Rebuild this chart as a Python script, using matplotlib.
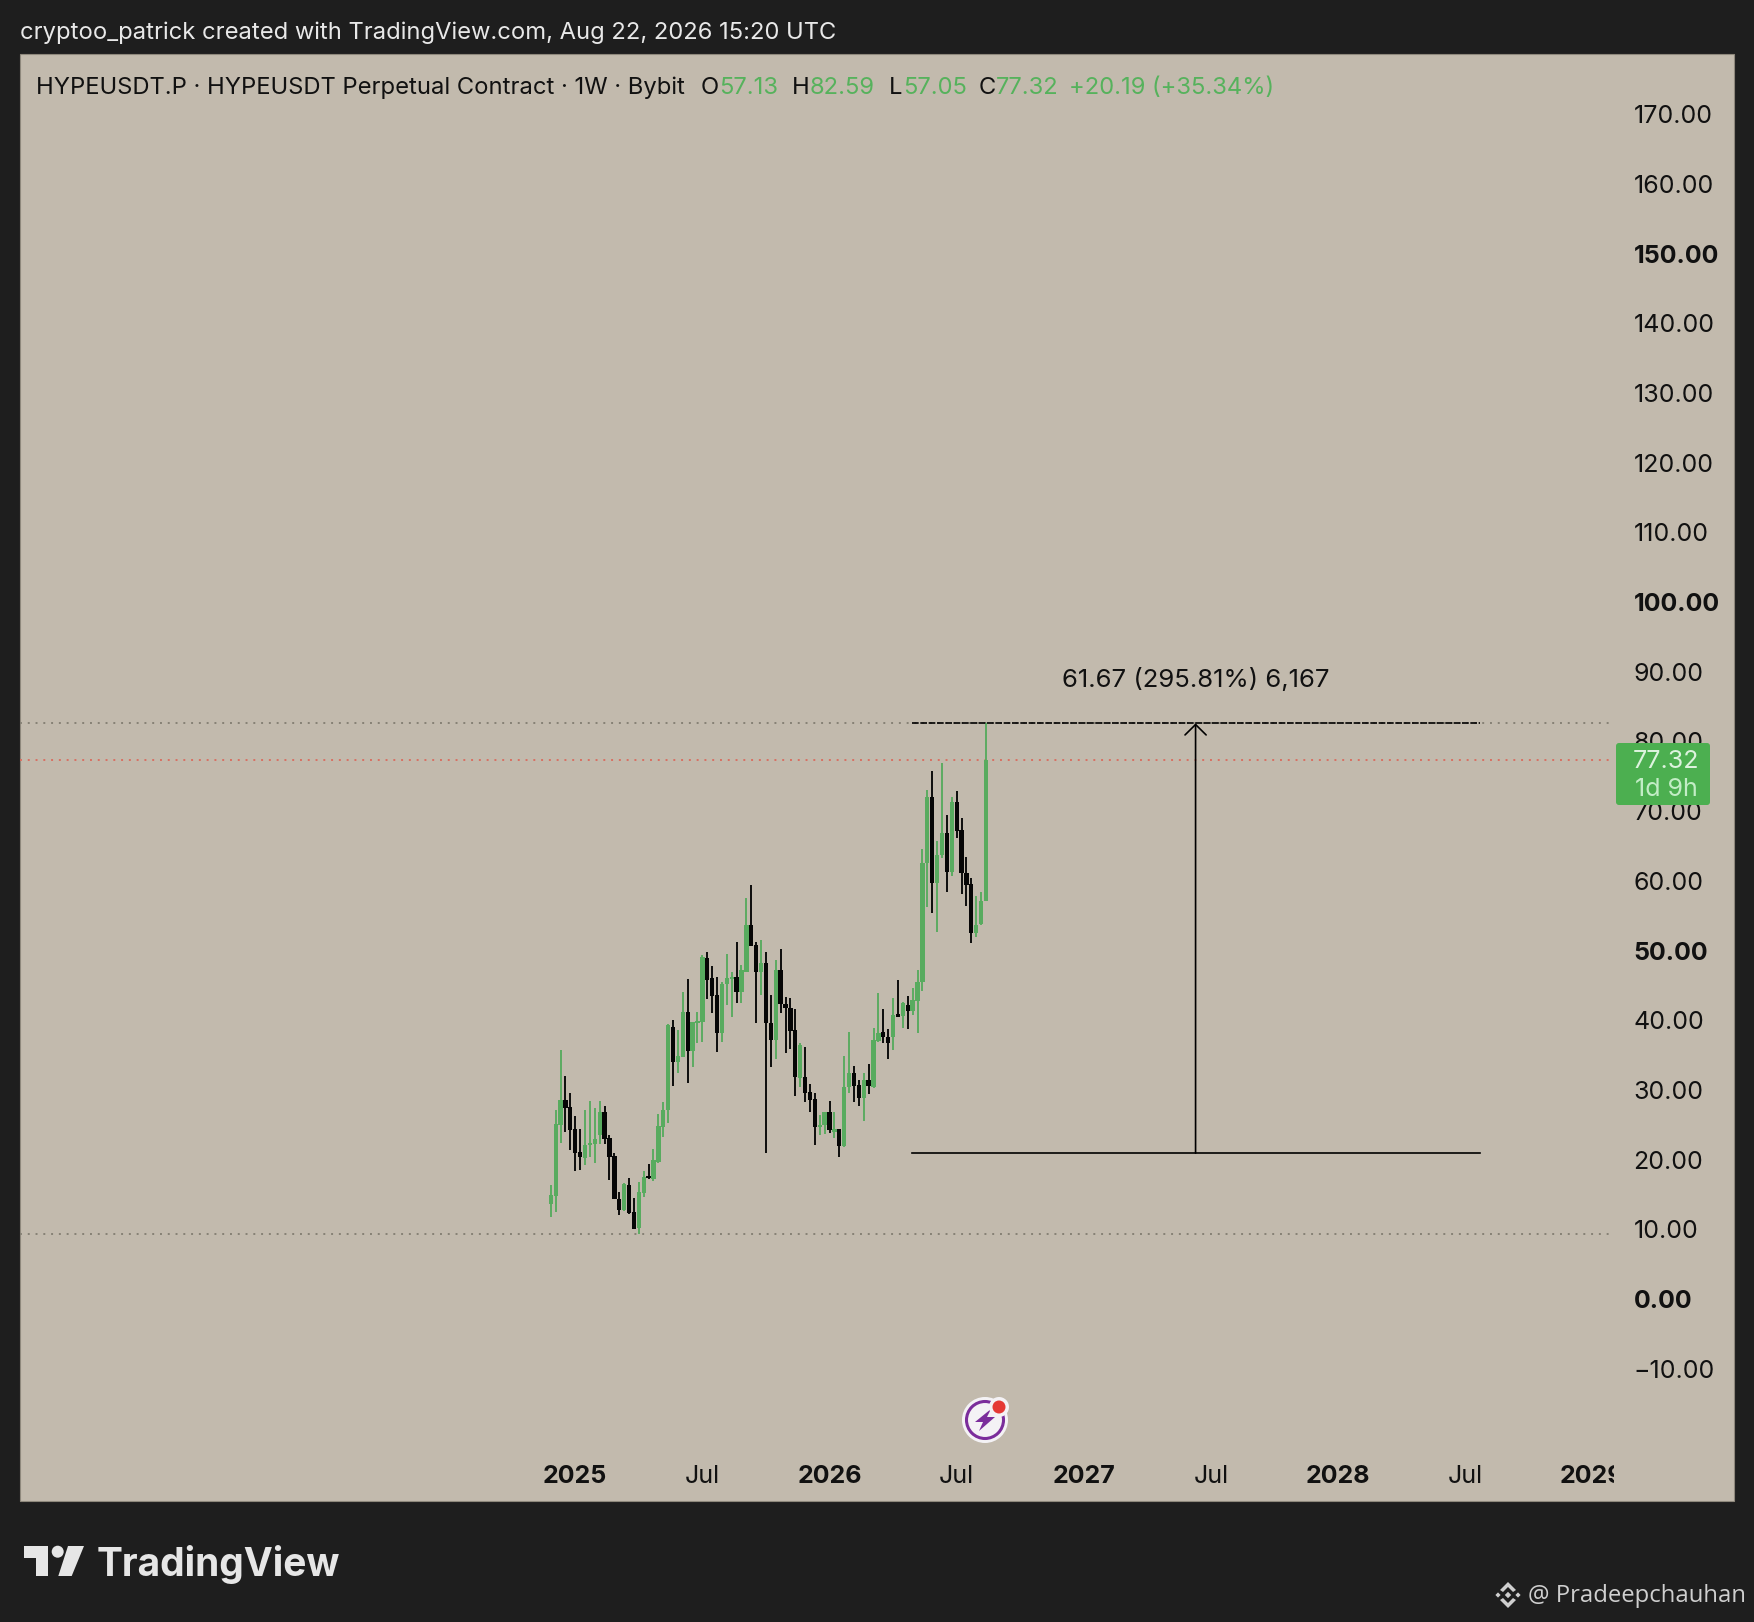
import matplotlib
matplotlib.use("Agg")
import matplotlib.pyplot as plt
import matplotlib.dates as mdates
import matplotlib.patches as mp
import pandas as pd
import numpy as np

W, H = 1754, 1622
FONT = "Inter"

# ---------- data (weekly HYPEUSDT.P candles) ----------
first_week = "2024-12-02"
opens = [13.63,14.78,24.97,28.55,27.60,24.35,21.14,20.28,22.10,22.24,
         23.53,26.88,23.05,20.52,14.30,12.77,16.36,12.53,10.14,15.17,
         17.65,17.22,19.71,24.73,27.12,39.07,34.05,34.77,41.22,35.63,
         39.64,39.79,48.97,46.00,43.61,38.11,45.19,45.91,46.15,44.09,
         46.96,53.66,50.79,46.96,48.16,39.55,37.16,47.20,42.32,41.70,
         38.59,31.66,31.90,29.75,28.74,24.72,24.96,26.78,24.01,24.34,
         21.95,30.37,32.38,30.70,28.88,31.42,30.46,37.02,38.36,37.64,
         37.55,40.85,40.61,42.18,41.37,42.81,45.54,62.51,72.08,59.64,
         63.71,66.82,61.32,71.36,67.29,61.08,59.55,52.47,53.76,57.13]
highs = [16.36,27.12,35.73,31.99,29.51,26.26,24.39,27.12,28.41,27.36,
         28.41,27.69,23.53,20.99,15.36,16.60,17.36,14.45,16.79,18.42,
         19.37,21.53,26.55,28.27,39.46,40.03,38.60,44.04,45.96,39.79,
         41.13,49.35,49.73,47.77,46.15,45.53,49.49,46.96,51.22,47.92,
         57.58,59.39,51.26,51.50,49.73,43.61,48.63,50.21,43.37,43.13,
         41.60,36.77,36.20,30.84,29.55,26.40,26.87,28.45,26.87,24.34,
         34.86,38.26,33.43,31.42,32.38,33.71,38.83,43.86,41.61,38.69,
         43.24,45.77,42.66,43.48,44.67,47.21,64.57,73.03,75.76,65.72,
         76.95,69.45,72.08,72.89,69.06,63.47,60.36,57.87,58.35,82.59]
lows = [11.72,12.53,22.34,24.01,21.38,18.42,18.51,19.23,20.43,19.56,
        22.24,22.24,17.08,14.30,12.10,12.68,12.20,10.10,9.33,14.69,
        17.22,16.98,19.47,23.29,25.21,30.56,32.48,34.67,31.04,33.24,
        36.77,36.92,43.09,41.08,35.48,36.92,42.13,40.41,42.42,42.51,
        46.96,50.64,39.64,43.57,20.92,33.33,34.38,41.08,35.34,35.87,
        29.17,30.37,28.21,26.88,22.09,23.53,23.62,23.77,23.15,20.42,
        21.86,29.51,28.31,27.74,25.58,29.41,30.22,36.92,36.69,34.39,
        35.73,40.41,38.84,38.69,40.75,38.12,44.24,56.30,55.43,52.61,
        63.23,58.45,60.74,66.19,58.11,56.44,51.13,51.99,53.66,57.05]
closes = [14.93,25.11,28.55,27.36,24.25,21.00,20.43,22.10,22.43,22.91,
          26.88,22.91,20.43,14.30,12.77,16.50,12.30,10.10,15.36,17.46,
          17.32,19.95,24.82,27.12,39.31,34.05,34.87,41.22,35.63,39.79,
          39.93,49.11,45.76,43.47,38.11,45.19,46.00,46.24,44.09,47.20,
          53.66,50.64,46.96,48.25,39.55,37.16,47.20,42.32,41.70,38.50,
          31.80,36.44,29.60,28.55,24.72,24.96,26.78,24.25,24.34,22.00,
          30.46,32.38,30.56,28.88,31.42,30.56,37.16,38.22,37.55,36.78,
          40.75,40.51,42.52,41.37,42.90,45.53,62.61,72.08,59.64,63.71,
          66.82,61.32,71.36,67.15,61.08,59.40,52.47,53.66,57.11,77.32]

price_ticks = [170,160,150,140,130,120,110,100,90,80,70,60,50,40,30,20,10,0,-10]
bold_prices = [150,100,50,0]
time_tick_dates = ["2025-01-06","2025-07-07","2026-01-05","2026-07-06","2027-01-04",
                   "2027-07-05","2028-01-03","2028-07-03","2029-01-01"]
time_tick_labels = ["2025","Jul","2026","Jul","2027","Jul","2028","Jul","2029"]
range_top = 82.59
range_bottom = 20.92
last_price = 77.32
all_time_low = 9.33
range_start, range_mid, range_end = "2026-05-03", "2027-06-13", "2028-07-24"

title_text = "cryptoo_patrick created with TradingView.com, Aug 22, 2026 15:20 UTC"
symbol_text = "HYPEUSDT.P · HYPEUSDT Perpetual Contract · 1W · Bybit"
ohlc_labels = [("O", "57.13"), ("H", "82.59"), ("L", "57.05"), ("C", "77.32")]
change_text = "+20.19 (+35.34%)"
range_text = "61.67 (295.81%) 6,167"

# ---------- colours ----------
BG = "#1E1E1E"
PANEL = "#C2BAAD"
GREEN = "#58AB5F"
BLACK = "#060606"
LEG_GREEN = "#56B25C"
BOX_GREEN = "#4CAF50"

plt.rcParams["font.family"] = [FONT, "DejaVu Sans"]
fig = plt.figure(figsize=(W/100, H/100), dpi=100, facecolor=BG)

# ---------- background layer (pixel coordinates) ----------
bg = fig.add_axes([0, 0, 1, 1], zorder=0)
bg.set_xlim(0, W); bg.set_ylim(H, 0); bg.axis("off")
bg.add_patch(mp.Rectangle((20, 54), 1713.5, 1447, fc=PANEL, ec="#8E887C", lw=0.8))

# ---------- main chart ----------
PANE_L, PANE_R, PANE_T, PANE_B = 20, 1614, 54, 1501
ax = fig.add_axes([PANE_L/W, 1-PANE_B/H, (PANE_R-PANE_L)/W, (PANE_B-PANE_T)/H], zorder=1)
ax.patch.set_alpha(0)
for s in ax.spines.values():
    s.set_visible(False)

dates = pd.date_range(first_week, periods=len(opens), freq="7D")
xd = mdates.date2num(dates)
px_per_day = 4.89/7
x_last = xd[-1]
ax.set_xlim(x_last + (PANE_L-986)/px_per_day, x_last + (PANE_R-986)/px_per_day)
y0 = 1299; py = 6.97
ax.set_ylim((y0-PANE_B)/py, (y0-PANE_T)/py)

o, h, l, c = map(np.array, (opens, highs, lows, closes))
cols = [GREEN if ci >= oi else BLACK for oi, ci in zip(o, c)]
ax.vlines(xd, l, h, colors=cols, lw=1.35, zorder=3)
ax.bar(xd, np.abs(c-o), bottom=np.minimum(o, c), width=4.3/px_per_day,
       color=cols, linewidth=0, zorder=4)

# dotted horizontal levels
dot = (0, (1, 3))
ax.axhline(range_top, color="#868175", lw=1.4, ls=dot, zorder=1)
ax.axhline(all_time_low, color="#868175", lw=1.4, ls=dot, zorder=1)
ax.axhline(last_price, color="#D86F62", lw=1.4, ls=dot, zorder=1)

# price-range drawing
rs, rm, re_ = [mdates.date2num(pd.Timestamp(d)) for d in (range_start, range_mid, range_end)]
ax.plot([rs, re_], [range_top]*2, color="black", lw=1.2, ls=(0, (4, 1)), zorder=5)
ax.plot([rs, re_], [range_bottom]*2, color="black", lw=1.2, zorder=5)
ax.annotate("", xy=(rm, range_top), xytext=(rm, range_bottom),
            arrowprops=dict(arrowstyle="->,head_length=7.5,head_width=7.6", mutation_scale=1,
                            color="black", lw=1.2, shrinkA=0, shrinkB=0), zorder=5)
ax.text(rm, (y0-680)/py, range_text, ha="center", va="center", fontsize=18.5, color="#111111")

# axes
ax.yaxis.tick_right()
ax.set_yticks(price_ticks)
ax.set_yticklabels([f"{v:.2f}".replace("-", "\u2212") for v in price_ticks])
ax.tick_params(axis="y", length=0, pad=14, labelsize=18, labelcolor="#111111")
for t, v in zip(ax.get_yticklabels(), price_ticks):
    if v in bold_prices:
        t.set_fontweight("bold")
ax.set_xticks([mdates.date2num(pd.Timestamp(d)) for d in time_tick_dates])
ax.set_xticklabels(time_tick_labels)
ax.tick_params(axis="x", length=0, pad=-26, labelsize=18, labelcolor="#111111")
for t, s in zip(ax.get_xticklabels(), time_tick_labels):
    if s != "Jul":
        t.set_fontweight("bold")
    t.set_clip_on(True)
    t.set_clip_box(ax.bbox)

# ---------- overlay layer (pixel coordinates) ----------
ov = fig.add_axes([0, 0, 1, 1], zorder=2)
ov.set_xlim(0, W); ov.set_ylim(H, 0); ov.axis("off"); ov.patch.set_alpha(0)

ov.text(20, 33, title_text, color="#E8E8E8", fontsize=17.1, va="center", ha="left")

LEG_Y = 88
ov.text(36, LEG_Y, symbol_text, color="#111111", fontsize=17.1, va="center", ha="left")
for (lab, val), xl, xv in zip(ohlc_labels, (701, 792, 889, 979), (719, 810, 903, 996)):
    ov.text(xl, LEG_Y, lab, color="#111111", fontsize=17.1, va="center", ha="left")
    ov.text(xv, LEG_Y, val, color=LEG_GREEN, fontsize=17.1, va="center", ha="left")
ov.text(1069, LEG_Y, change_text, color=LEG_GREEN, fontsize=17.1, va="center", ha="left")

# last-price box
ov.add_patch(mp.FancyBboxPatch((1618, 745), 90, 58, boxstyle="round,pad=2,rounding_size=3",
                               fc=BOX_GREEN, ec="none"))
ov.text(1666, 761, f"{last_price:.2f}", color="#DDF3DE", fontsize=18, ha="center", va="center")
ov.text(1666, 789, "1d 9h", color="#C3EDC6", fontsize=18, ha="center", va="center")

# lightning icon
cx, cy = 985, 1420
ov.add_patch(mp.Circle((cx, cy), 23, fc="#F4F2F5", ec="none"))
ov.add_patch(mp.Circle((cx, cy), 18.5, fc="none", ec="#7B2D9B", lw=2.2))
ov.add_patch(mp.Polygon([(cx+6, cy-11), (cx-10, cy+2), (cx-2, cy+2), (cx-6, cy+11),
                         (cx+10, cy-3), (cx+2, cy-3)], fc="#7B2D9B", ec="none"))
ov.add_patch(mp.Circle((999, 1407), 10, fc="#F4F2F5", ec="none"))
ov.add_patch(mp.Circle((999, 1407), 6.5, fc="#E53935", ec="none"))

# TradingView logo
LOGO = "#E6E6E6"
ov.add_patch(mp.Polygon([(24, 1546), (48, 1546), (48, 1576), (36, 1576), (36, 1558), (24, 1558)],
                        fc=LOGO, ec="none"))
ov.add_patch(mp.Circle((57.7, 1551.7), 6, fc=LOGO, ec="none"))
ov.add_patch(mp.Polygon([(68, 1546), (84, 1546), (71.7, 1576), (58.3, 1576)], fc=LOGO, ec="none"))
ov.text(97, 1576, "TradingView", color=LOGO, fontsize=28, fontweight="bold",
        ha="left", va="baseline")

# watermark
WM = "#CFCFCF"
def diamond(x, y, r):
    ov.add_patch(mp.Polygon([(x, y-r), (x+r, y), (x, y+r), (x-r, y)], fc=WM, ec="none"))
diamond(1508, 1595, 3.2)
diamond(1498, 1595, 2.6)
diamond(1518, 1595, 2.6)
ov.add_patch(mp.Polygon([(1508, 1582), (1516, 1590), (1513, 1592), (1508, 1587), (1503, 1592), (1500, 1590)],
                        fc=WM, ec="none"))
ov.add_patch(mp.Polygon([(1508, 1608), (1516, 1600), (1513, 1598), (1508, 1603), (1503, 1598), (1500, 1600)],
                        fc=WM, ec="none"))
ov.text(1528, 1596, "@ Pradeepchauhan", color=WM, fontsize=17.2, family=["Open Sans", "DejaVu Sans"],
        ha="left", va="center")

fig.savefig("out.png", dpi=100, facecolor=BG)
